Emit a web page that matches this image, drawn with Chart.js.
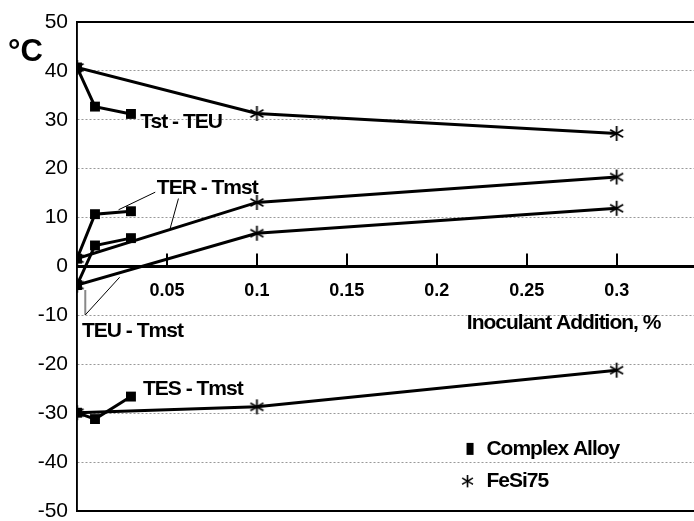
<!DOCTYPE html>
<html>
<head>
<meta charset="utf-8">
<script src="https://cdn.jsdelivr.net/npm/chart.js@4"></script>
<style>
  html, body { margin: 0; padding: 0; background: #fff; }
  #wrap { width: 694px; height: 521px; }
</style>
</head>
<body>
<div id="wrap"><canvas id="chart" width="694" height="521"></canvas></div>
<script>
// values
const xComplex = [0, 0.01, 0.03];
const xFeSi = [0, 0.1, 0.3];
const xTicks = [0.05, 0.1, 0.15, 0.2, 0.25, 0.3];

const tstTeuComplex = [40.7, 32.7, 31.2];
const tstTeuFeSi = [40.7, 31.3, 27.2];
const terTmstComplex = [1.6, 10.7, 11.3];
const terTmstFeSi = [1.6, 13.1, 18.3];
const teuTmstComplex = [-3.8, 4.3, 5.8];
const teuTmstFeSi = [-3.8, 6.8, 11.9];
const tesTmstComplex = [-29.9, -31.2, -26.6];
const tesTmstFeSi = [-29.9, -28.7, -21.2];

const legendNames = ['Complex Alloy', 'FeSi75'];

// text labels on the plot (data coords)
const notes = [
    { text: 'Tst - TEU', x: 0.0352, y: 29.5 },
    { text: 'TER - Tmst', x: 0.0444, y: 16.1 },
    { text: 'TEU - Tmst', x: 0.0028, y: -13.2 },
    { text: 'TES - Tmst', x: 0.0367, y: -25.1 },
    { text: 'Inoculant Addition, %', x: 0.2167, y: -11.5 }
];
// leader lines from labels to curves
const leaders = [
    { from: [0.0435, 15.2], to: [0.0231, 11.6], color: '#000', w: 1 },
    { from: [0.0564, 13.9], to: [0.0518, 7.8], color: '#000', w: 1 },
    { from: [0.0046, -4.8], to: [0.0046, -9.9], color: '#888', w: 2 },
    { from: [0.0046, -9.9], to: [0.0237, -2.2], color: '#000', w: 1 }
];

function makeStar(size) {
    const c = document.createElement('canvas');
    c.width = size; c.height = size;
    const g = c.getContext('2d');
    g.strokeStyle = '#000';
    g.lineWidth = 1.8;
    const m = size / 2, r = size / 2 - 1;
    [90, 30, 150].forEach(function (deg) {
        const a = deg * Math.PI / 180;
        g.beginPath();
        g.moveTo(m + r * Math.cos(a), m - r * Math.sin(a));
        g.lineTo(m - r * Math.cos(a), m + r * Math.sin(a));
        g.stroke();
    });
    return c;
}
const star = makeStar(17);

function pts(xs, ys) {
    return xs.map(function (x, i) { return { x: x, y: ys[i] }; });
}
function complexSet(ys) {
    return {
        data: pts(xComplex, ys), borderColor: '#000', borderWidth: 3,
        pointStyle: 'rect', pointRadius: 7, backgroundColor: '#000', pointBorderWidth: 0
    };
}
function fesiSet(ys) {
    return {
        data: pts(xFeSi, ys), borderColor: '#000', borderWidth: 3,
        pointStyle: star, pointRadius: 8, backgroundColor: '#000'
    };
}

const extras = {
    id: 'extras',
    beforeDatasetsDraw(chart) {
        const ctx = chart.ctx, a = chart.chartArea, xs = chart.scales.x, ys = chart.scales.y;
        ctx.save();
        ctx.strokeStyle = '#000';
        // frame
        ctx.lineWidth = 2;
        ctx.beginPath();
        ctx.moveTo(a.left, a.top); ctx.lineTo(a.right, a.top);
        ctx.moveTo(a.left, a.bottom); ctx.lineTo(a.right, a.bottom);
        ctx.stroke();
        ctx.lineWidth = 1.5;
        ctx.beginPath();
        ctx.moveTo(a.left, a.top); ctx.lineTo(a.left, a.bottom);
        ctx.stroke();
        // tick marks pointing up from the x axis
        const y0 = ys.getPixelForValue(0);
        ctx.lineWidth = 2;
        xTicks.forEach(function (v) {
            const px = Math.round(xs.getPixelForValue(v));
            ctx.beginPath();
            ctx.moveTo(px, y0 - 13); ctx.lineTo(px, y0);
            ctx.stroke();
        });
        // leaders
        leaders.forEach(function (l) {
            ctx.strokeStyle = l.color;
            ctx.lineWidth = l.w;
            ctx.beginPath();
            ctx.moveTo(xs.getPixelForValue(l.from[0]), ys.getPixelForValue(l.from[1]));
            ctx.lineTo(xs.getPixelForValue(l.to[0]), ys.getPixelForValue(l.to[1]));
            ctx.stroke();
        });
        ctx.restore();
    },
    afterDraw(chart) {
        const ctx = chart.ctx, xs = chart.scales.x, ys = chart.scales.y;
        ctx.save();
        ctx.fillStyle = '#000';
        ctx.textBaseline = 'middle';
        ctx.font = 'bold 21px "Liberation Sans", Arial, sans-serif';
        ctx.letterSpacing = '-1px';
        notes.forEach(function (n) {
            ctx.fillText(n.text, xs.getPixelForValue(n.x), ys.getPixelForValue(n.y));
        });
        // legend
        const lx = xs.getPixelForValue(0.2185), ly1 = ys.getPixelForValue(-37.3);
        ctx.fillRect(lx - 3.5, ly1 - 6, 7, 12);
        const sx = xs.getPixelForValue(0.2171), ly2 = ys.getPixelForValue(-43.9);
        ctx.drawImage(star, sx - 7, ly2 - 7, 14, 14);
        ctx.font = 'bold 21px "Liberation Sans", Arial, sans-serif';
        const tx = xs.getPixelForValue(0.2276);
        ctx.fillText(legendNames[0], tx, ly1);
        ctx.fillText(legendNames[1], tx, ly2);
        // unit label
        ctx.letterSpacing = '0px';
        ctx.textBaseline = 'alphabetic';
        ctx.font = 'bold 31px "Liberation Sans", Arial, sans-serif';
        ctx.fillText('°C', 8, 61);
        ctx.restore();
    }
};

new Chart(document.getElementById('chart'), {
    type: 'line',
    data: {
        datasets: [
            complexSet(tstTeuComplex), fesiSet(tstTeuFeSi),
            complexSet(terTmstComplex), fesiSet(terTmstFeSi),
            complexSet(teuTmstComplex), fesiSet(teuTmstFeSi),
            complexSet(tesTmstComplex), fesiSet(tesTmstFeSi)
        ]
    },
    options: {
        responsive: false,
        animation: false,
        layout: { autoPadding: false, padding: { top: 22, bottom: 10, left: 0, right: 0 } },
        elements: { line: { tension: 0 } },
        plugins: { legend: { display: false }, tooltip: { enabled: false } },
        scales: {
            x: {
                type: 'linear',
                min: 0,
                max: 0.343,
                position: { y: 0 },
                afterBuildTicks: function (s) {
                    s.ticks = xTicks.map(function (v) { return { value: v }; });
                },
                afterFit: function (s) {
                    s.paddingLeft = 0;
                    s.paddingRight = 0;
                },
                grid: { drawOnChartArea: false, drawTicks: false },
                border: { display: true, color: '#000', width: 3 },
                ticks: {
                    color: '#000',
                    padding: 14,
                    maxRotation: 0,
                    autoSkip: false,
                    font: { family: '"Liberation Sans", Arial, sans-serif', size: 18, weight: 'bold' },
                    callback: function (v) { return String(v); }
                }
            },
            y: {
                min: -50,
                max: 50,
                afterFit: function (s) {
                    s.width = 77;
                    s.paddingTop = 0;
                    s.paddingBottom = 0;
                },
                grid: {
                    drawTicks: false,
                    lineWidth: 1,
                    color: function (c) {
                        const v = c.tick ? c.tick.value : null;
                        return (v === 0 || v === 50 || v === -50) ? 'rgba(0,0,0,0)' : '#999';
                    }
                },
                border: { display: true, color: '#000', width: 1.5, dash: [2, 2] },
                ticks: {
                    stepSize: 10,
                    color: '#000',
                    padding: 9,
                    font: { family: '"Liberation Sans", Arial, sans-serif', size: 21 }
                }
            }
        }
    },
    plugins: [extras]
});
</script>
</body>
</html>
